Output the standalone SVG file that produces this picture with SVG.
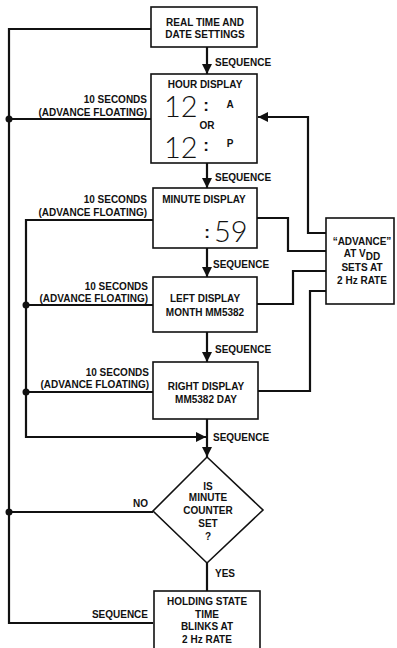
<svg xmlns="http://www.w3.org/2000/svg" width="397" height="648" viewBox="0 0 397 648">
<style>
text{font-family:"Liberation Sans",Arial,sans-serif;font-weight:bold;font-size:10px;fill:#111}
.c{text-anchor:middle}
.r{text-anchor:end}
.box{fill:#fff;stroke:#111;stroke-width:1.6}
.ln{fill:none;stroke:#111;stroke-width:2.2}
.dig{font-family:Lato,"Liberation Sans",sans-serif;font-weight:300;font-size:29px}
.col{font-size:17px;text-anchor:middle}
</style>
<defs>
<marker id="ah" markerUnits="userSpaceOnUse" markerWidth="10" markerHeight="10" refX="10" refY="5" orient="auto">
<path d="M0,0 L10,5 L0,10 z" fill="#111"/>
</marker>
</defs>
<g id="connectors">
<path class="ln" d="M151,29 H9 V623 H153"/>
<path class="ln" d="M9,119 H151"/>
<path class="ln" d="M9,512 H153"/>
<circle cx="9" cy="119" r="3.5" fill="#111"/>
<circle cx="9" cy="512" r="3.5" fill="#111"/>
<path class="ln" d="M207,47 V74" marker-end="url(#ah)"/>
<path class="ln" d="M207,163 V188" marker-end="url(#ah)"/>
<path class="ln" d="M207,248 V277" marker-end="url(#ah)"/>
<path class="ln" d="M207,332 V362" marker-end="url(#ah)"/>
<path class="ln" d="M207,419 V457" marker-end="url(#ah)"/>
<path class="ln" d="M153,220 H26 V437 H206" marker-end="url(#ah)"/>
<path class="ln" d="M26,305 H153"/>
<path class="ln" d="M26,392 H153"/>
<circle cx="26" cy="305" r="3.5" fill="#111"/>
<circle cx="26" cy="392" r="3.5" fill="#111"/>
<path class="ln" d="M326,233 H308 V117 H258" marker-end="url(#ah)"/>
<path class="ln" d="M257,218 H288 V251 H326"/>
<path class="ln" d="M257,304 H293 V271 H326"/>
<path class="ln" d="M326,291 H310 V391 H258"/>
<path class="ln" d="M207,563 V591"/>
<text x="215" y="66">SEQUENCE</text>
<text x="215" y="181">SEQUENCE</text>
<text x="213" y="268">SEQUENCE</text>
<text x="215" y="353">SEQUENCE</text>
<text x="213" y="441">SEQUENCE</text>
<text x="148" y="618" class="r">SEQUENCE</text>
<text x="148" y="507" class="r">NO</text>
<text x="215" y="577">YES</text>
<text x="147" y="103" class="r">10 SECONDS</text>
<text x="147" y="116" class="r">(ADVANCE FLOATING)</text>
<text x="147" y="203" class="r">10 SECONDS</text>
<text x="147" y="216" class="r">(ADVANCE FLOATING)</text>
<text x="148" y="290" class="r">10 SECONDS</text>
<text x="148" y="302" class="r">(ADVANCE FLOATING)</text>
<text x="149" y="376" class="r">10 SECONDS</text>
<text x="149" y="388" class="r">(ADVANCE FLOATING)</text>
</g>
<g id="real-time">
<rect class="box" x="151" y="7" width="106" height="40"/>
<text x="205" y="26" class="c">REAL TIME AND</text>
<text x="205" y="38" class="c">DATE SETTINGS</text>
</g>
<g id="hour-display">
<rect class="box" x="151" y="74" width="106" height="89"/>
<text x="205" y="88" class="c">HOUR DISPLAY</text>
<text x="164" y="117" class="dig">12</text>
<text x="206" y="111" class="col">:</text>
<text x="230" y="108" class="c">A</text>
<text x="207" y="129" class="c">OR</text>
<text x="164" y="158" class="dig">12</text>
<text x="206" y="151" class="col">:</text>
<text x="230" y="147" class="c">P</text>
</g>
<g id="minute-display">
<rect class="box" x="153" y="188" width="104" height="60"/>
<text x="204" y="203" class="c">MINUTE DISPLAY</text>
<text x="207" y="238" class="col">:</text>
<text x="214" y="242" class="dig">59</text>
</g>
<g id="left-display">
<rect class="box" x="153" y="277" width="104" height="55"/>
<text x="205" y="302" class="c">LEFT DISPLAY</text>
<text x="205" y="316" class="c">MONTH MM5382</text>
</g>
<g id="right-display">
<rect class="box" x="153" y="362" width="105" height="57"/>
<text x="206" y="390" class="c">RIGHT DISPLAY</text>
<text x="206" y="403" class="c">MM5382 DAY</text>
</g>
<g id="advance">
<rect class="box" x="326" y="218" width="68" height="86"/>
<text x="362" y="245" class="c">“ADVANCE”</text>
<text x="362" y="257" class="c">AT V<tspan dy="3">DD</tspan></text>
<text x="362" y="271" class="c">SETS AT</text>
<text x="362" y="284" class="c">2 Hz RATE</text>
</g>
<g id="decision">
<polygon class="box" points="207,457 263,510 207,563 153,511"/>
<text x="208" y="490" class="c">IS</text>
<text x="208" y="501" class="c">MINUTE</text>
<text x="208" y="514" class="c">COUNTER</text>
<text x="208" y="527" class="c">SET</text>
<text x="208" y="540" class="c">?</text>
</g>
<g id="holding">
<rect class="box" x="154" y="591" width="106" height="70"/>
<text x="207" y="605" class="c">HOLDING STATE</text>
<text x="207" y="618" class="c">TIME</text>
<text x="207" y="630" class="c">BLINKS AT</text>
<text x="207" y="643" class="c">2 Hz RATE</text>
</g>
</svg>
